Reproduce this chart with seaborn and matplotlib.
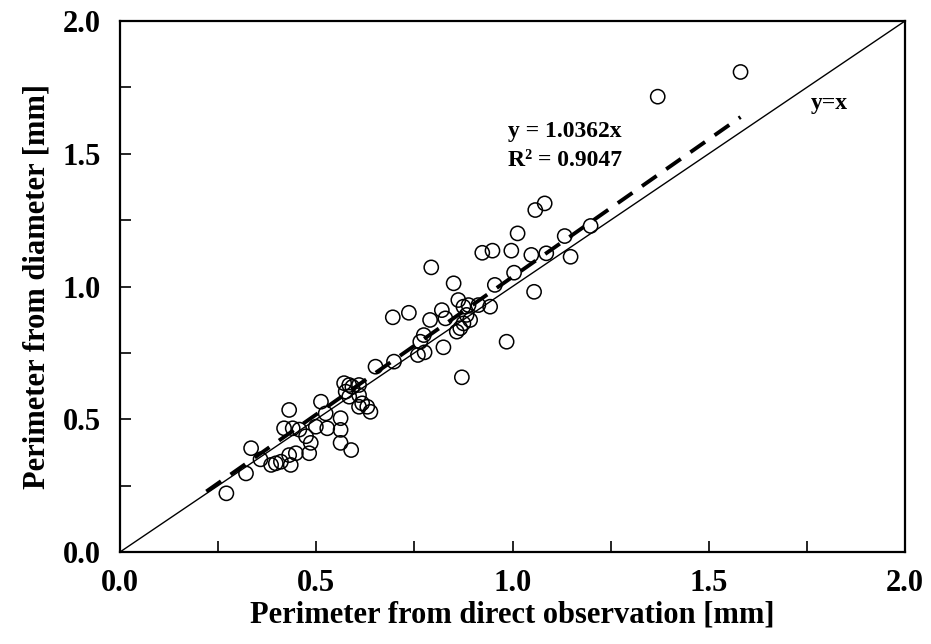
import numpy as np
import pandas as pd
import matplotlib
matplotlib.use("Agg")
import matplotlib.pyplot as plt
import seaborn as sns
from matplotlib.ticker import MultipleLocator

# ---- data ----
direct_obs = [0.271, 0.321, 0.334, 0.358, 0.385, 0.397, 0.410, 0.431, 0.435, 0.448,
              0.431, 0.418, 0.440, 0.457, 0.474, 0.486, 0.482, 0.512, 0.499, 0.528,
              0.524, 0.562, 0.562, 0.562, 0.589, 0.571, 0.584, 0.609, 0.575, 0.584,
              0.609, 0.617, 0.630, 0.638, 0.609, 0.592, 0.651, 0.698,
              0.695, 0.736, 0.790, 0.820, 0.829, 0.862, 0.875, 0.888, 0.943, 0.883,
              0.892, 0.875, 0.867, 0.858, 0.774, 0.765, 0.759, 0.824, 0.985, 0.871,
              0.793, 0.850, 0.955, 1.004, 1.055, 0.923, 0.949, 0.997, 1.013, 1.048,
              1.086, 1.058, 1.082, 1.133, 1.148, 1.199, 1.370, 1.581, 0.913, 0.776]
from_diameter = [0.221, 0.296, 0.391, 0.349, 0.328, 0.334, 0.340, 0.365, 0.328, 0.372,
                 0.535, 0.466, 0.466, 0.461, 0.436, 0.411, 0.372, 0.566, 0.472, 0.466,
                 0.522, 0.504, 0.460, 0.411, 0.384, 0.636, 0.629, 0.629, 0.604, 0.585,
                 0.591, 0.560, 0.547, 0.528, 0.547, 0.622, 0.698, 0.717,
                 0.884, 0.901, 0.874, 0.911, 0.880, 0.949, 0.924, 0.930, 0.924, 0.893,
                 0.874, 0.861, 0.843, 0.830, 0.817, 0.792, 0.742, 0.771, 0.792, 0.658,
                 1.072, 1.012, 1.006, 1.052, 0.980, 1.127, 1.135, 1.135, 1.200, 1.119,
                 1.125, 1.288, 1.313, 1.190, 1.112, 1.228, 1.715, 1.808, 0.930, 0.752]

slope = 1.0362
r_squared = 0.9047
trend_start = 0.22
identity = [0.0, 2.0]

x_ticks = [0.0, 0.5, 1.0, 1.5, 2.0]
y_ticks = [0.0, 0.5, 1.0, 1.5, 2.0]

df = pd.DataFrame({"obs": direct_obs, "dia": from_diameter})

sns.set_theme(style="white")
plt.rcParams["font.family"] = ["Liberation Serif", "DejaVu Serif"]
plt.rcParams["font.weight"] = "bold"
plt.rcParams["text.color"] = "black"
plt.rcParams["axes.labelcolor"] = "black"
plt.rcParams["xtick.color"] = "black"
plt.rcParams["ytick.color"] = "black"

fig = plt.figure(figsize=(9.31, 6.44), dpi=100)
ax = fig.add_axes([120 / 931, 1 - 552 / 644, 785 / 931, 531 / 644])

# y = x line
sns.lineplot(x=identity, y=identity, ax=ax, color="black", linewidth=1.0, zorder=2)

# trendline through origin
tx = np.array([trend_start, max(direct_obs)])
sns.lineplot(x=tx, y=slope * tx, ax=ax, color="black", linewidth=2.8,
             linestyle=(0, (4.6, 3.0)), zorder=3)

sns.scatterplot(data=df, x="obs", y="dia", ax=ax, marker="o", s=105,
                facecolor="none", edgecolor="black", linewidth=1.1, zorder=4)

ax.set_xlim(0, 2.0)
ax.set_ylim(0, 2.0)
ax.set_xticks(x_ticks)
ax.set_yticks(y_ticks)
ax.set_xticklabels([f"{v:.1f}" for v in x_ticks])
ax.set_yticklabels([f"{v:.1f}" for v in y_ticks])
ax.xaxis.set_minor_locator(MultipleLocator(0.25))
ax.yaxis.set_minor_locator(MultipleLocator(0.25))
ax.tick_params(axis="both", which="both", direction="in", length=8, width=1.2,
               bottom=True, left=True, top=False, right=False, colors="black")
ax.tick_params(axis="x", which="major", labelsize=22, pad=12)
ax.tick_params(axis="y", which="major", labelsize=22, pad=14)
for lab in ax.get_xticklabels() + ax.get_yticklabels():
    lab.set_fontweight("bold")
    lab.set_color("black")

for sp in ax.spines.values():
    sp.set_visible(True)
    sp.set_color("black")
    sp.set_linewidth(1.6)

ax.set_xlabel("Perimeter from direct observation [mm]", fontsize=22,
              fontweight="bold", labelpad=2, color="black")
ax.set_ylabel("Perimeter from diameter [mm]", fontsize=22,
              fontweight="bold", labelpad=8, color="black")

ax.text(0.989, 1.563, f"y = {slope}x", fontsize=17, fontweight="bold",
        ha="left", va="baseline", color="black")
ax.text(0.989, 1.454, f"R² = {r_squared}", fontsize=17, fontweight="bold",
        ha="left", va="baseline", color="black")
ax.text(1.76, 1.69, "y=x", fontsize=17, fontweight="bold", ha="left",
        va="center", color="black")

ax.grid(False)
ax.set_facecolor("white")
fig.savefig("out.png", dpi=100, facecolor="white")
